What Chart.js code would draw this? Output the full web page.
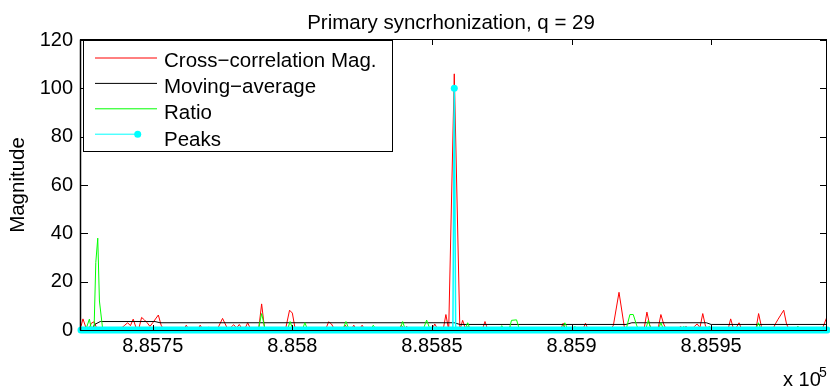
<!DOCTYPE html>
<html>
<head>
<meta charset="utf-8">
<script src="https://cdn.jsdelivr.net/npm/chart.js@4"></script>
<style>
  html, body { margin: 0; padding: 0; background: #fff; }
  #wrap { width: 830px; height: 386px; }
</style>
</head>
<body>
<div id="wrap"><canvas id="chart" width="830" height="386"></canvas></div>
<script>
// 図のテキスト
const titleText = 'Primary syncrhonization, q = 29';
const yAxisLabel = 'Magnitude';
const seriesNames = ['Cross\u2212correlation Mag.', 'Moving\u2212average', 'Ratio', 'Peaks'];

// 軸
const xMin = 885724.3;
const xMax = 885991.5;
const xTicks = [885750, 885800, 885850, 885900, 885950];
const xTickLabels = ['8.8575', '8.858', '8.8585', '8.859', '8.8595'];
const yTicks = [0, 20, 40, 60, 80, 100, 120];

// Cross-correlation Mag.
const corrX = [885724.3, 885725, 885726, 885727, 885728, 885729, 885730, 885731, 885738, 885740,
  885741, 885742, 885743, 885744, 885745, 885746, 885747, 885748, 885749, 885750,
  885752, 885753, 885754, 885761, 885762, 885763, 885766, 885767, 885768, 885773,
  885775, 885777, 885779, 885780, 885781, 885782, 885783, 885784, 885785, 885787,
  885788, 885789, 885790, 885791, 885797.5, 885799, 885800, 885801, 885802, 885812,
  885813, 885814, 885815, 885816, 885818, 885819, 885820, 885821, 885822, 885823,
  885824, 885825, 885826, 885838, 885839, 885840, 885841, 885842, 885850, 885851,
  885852, 885853, 885854, 885855, 885856, 885858, 885860, 885861, 885862, 885863,
  885864, 885868, 885869, 885870, 885877, 885878, 885879, 885896, 885897, 885898,
  885904, 885905, 885906, 885914, 885915, 885917, 885919, 885920, 885926, 885927,
  885928, 885929, 885931, 885932, 885933, 885934, 885938, 885939, 885940, 885941,
  885942, 885943, 885944, 885945, 885946, 885947, 885948, 885949, 885950, 885956,
  885957, 885958, 885959, 885960, 885961, 885966, 885967, 885968, 885969, 885972,
  885973, 885974, 885976, 885977, 885978, 885980, 885981, 885982, 885989, 885990,
  885991.5];
const corrY = [1.5, 4.6, 1.2, 0, 2.8, 3.4, 0.5, 0, 0, 2.0,
  3.0, 1.8, 4.5, 1.0, 0.5, 5.2, 4.2, 3.0, 1.5, 3.0,
  6.2, 2.0, 0, 0, 2.0, 0, 0, 2.0, 0, 0,
  4.8, 0, 2.2, 0.8, 2.3, 0.5, 0.5, 3.0, 0.5, 0,
  1.0, 10.8, 1.0, 0, 0, 8.2, 7.0, 0.5, 0, 0.5,
  3.4, 2.5, 0.5, 0, 0, 2.0, 0, 0, 2.0, 0,
  0.3, 2.0, 0, 0, 2.0, 0.5, 1.5, 0, 0, 2.5,
  0.5, 0, 0, 6.4, 0, 106, 0, 4.0, 0.5, 1.5,
  0, 0, 3.5, 0, 0, 1.5, 0, 0, 2.8, 0,
  0, 2.8, 0, 0, 2.0, 15.6, 0.5, 0, 0.5, 7.4,
  2.0, 0, 0.5, 6.4, 2.5, 0, 0, 1.5, 0.5, 1.5,
  0.5, 0, 1.5, 2.5, 1.0, 6.8, 1.5, 0.5, 0, 0,
  4.6, 0.5, 1.0, 3.0, 0, 0, 6.8, 1.5, 0, 0,
  2.5, 4.5, 8.2, 2.5, 0, 0, 1.5, 0, 0, 1.0,
  5.5];

// Moving-average
const avgX = [885724.3, 885728.5, 885729.2, 885731.2, 885750.8, 885752.6, 885858, 885860,
  885919.5, 885921.6, 885948.3, 885950, 885991.5];
const avgY = [0.5, 1.0, 2.3, 3.5, 3.5, 3.0, 3.0, 2.3, 2.3, 3.0, 3.0, 2.3, 2.3];

// Ratio
const ratioX = [885724.3, 885726, 885727.3, 885728, 885729, 885729.6, 885730.3, 885730.9, 885732, 885733,
  885769, 885770, 885772, 885773, 885787.8, 885789, 885790.3, 885798.2, 885799.2, 885800.2,
  885803.5, 885804.5, 885805.5, 885818, 885819.2, 885820.4, 885828, 885829, 885830, 885838.5,
  885839.5, 885840.5, 885846.8, 885848.1, 885849.4, 885861.8, 885862.8, 885863.8, 885874.2, 885875,
  885876, 885877.6, 885878.5, 885880.3, 885881.4, 885887, 885887.8, 885888.6, 885896.5, 885897.6,
  885898.8, 885900.5, 885901.2, 885902, 885919.5, 885920.9, 885922.1, 885923.3, 885924, 885926.5,
  885927.5, 885928.5, 885931, 885932, 885933, 885939.5, 885940.2, 885941, 885948.5, 885949.3,
  885950, 885957.5, 885958.3, 885959, 885966, 885966.9, 885968, 885980.3, 885981.1, 885982,
  885991.5];
const ratioY = [0.5, 0, 4.5, 0.5, 1.0, 28, 38, 12, 1.0, 0,
  0, 1.2, 0.3, 0, 0, 6.8, 0, 0, 3.5, 0,
  0, 3.0, 0, 0, 3.5, 0, 0, 2.0, 0, 0,
  3.5, 0, 0, 4.1, 0, 0, 3.0, 0, 0, 1.8,
  0, 0, 4.0, 4.2, 0, 0, 1.2, 0, 0, 3.0,
  0, 0, 1.5, 0, 0, 6.4, 6.4, 2.0, 0, 0,
  4.0, 0, 0, 3.0, 0, 0, 1.5, 0, 0, 1.5,
  0, 0, 1.2, 0, 0, 3.0, 0, 0, 1.5, 0,
  0];

// Peaks
const peakX = [885724.3, 885857.5, 885858, 885858.5, 885991.5];
const peakY = [0, 0, 100, 0, 0];

const seriesColors = ['#ff0000', '#000000', '#00ff00', '#00ffff'];
const fontFamily = '"Liberation Sans", Arial, Helvetica, sans-serif';

function toPoints(xs, ys) {
    return xs.map((x, i) => ({ x: x, y: ys[i] }));
}

// 枠・目盛り・凡例・タイトル
const matlabDecor = {
    id: 'matlabDecor',
    afterDatasetsDraw(chart) {
        const ctx = chart.ctx;
        const a = chart.chartArea;
        const xs = chart.scales.x;
        const ys = chart.scales.y;
        ctx.save();
        ctx.strokeStyle = '#000';
        ctx.lineWidth = 1;
        ctx.beginPath();
        xTicks.forEach(v => {
            const px = Math.round(xs.getPixelForValue(v)) + 0.5;
            ctx.moveTo(px, a.bottom); ctx.lineTo(px, a.bottom - 5);
            ctx.moveTo(px, a.top); ctx.lineTo(px, a.top + 5);
        });
        yTicks.forEach(v => {
            const py = Math.round(ys.getPixelForValue(v)) + 0.5;
            ctx.moveTo(a.left, py); ctx.lineTo(a.left + 7, py);
            ctx.moveTo(a.right, py); ctx.lineTo(a.right - 7, py);
        });
        ctx.stroke();
        ctx.strokeRect(a.left - 0.5, a.top - 0.5, a.right - a.left, a.bottom - a.top + 1);
        // 左軸は少し太い
        ctx.beginPath();
        ctx.lineWidth = 1.5;
        ctx.moveTo(a.left - 0.5, a.top - 0.5);
        ctx.lineTo(a.left - 0.5, a.bottom + 0.5);
        ctx.stroke();
        ctx.restore();
    },
    afterDraw(chart) {
        const ctx = chart.ctx;
        const a = chart.chartArea;
        ctx.save();
        ctx.fillStyle = '#000';

        // タイトル
        ctx.font = '20.5px ' + fontFamily;
        ctx.textAlign = 'center';
        ctx.textBaseline = 'alphabetic';
        ctx.fillText(titleText, 451, 28.5);

        // Y軸ラベル
        ctx.save();
        ctx.translate(18, (a.top + a.bottom) / 2);
        ctx.rotate(-Math.PI / 2);
        ctx.textBaseline = 'middle';
        ctx.fillText(yAxisLabel, 0, 0);
        ctx.restore();

        // 指数
        ctx.textAlign = 'left';
        ctx.font = '20px ' + fontFamily;
        ctx.fillText('x 10', 783, 386);
        ctx.font = '14px ' + fontFamily;
        ctx.fillText('5', 819, 376.5);

        // 凡例
        const box = { left: 83.5, top: 40.5, width: 309, height: 111 };
        ctx.fillStyle = '#fff';
        ctx.fillRect(box.left, box.top, box.width, box.height);
        ctx.strokeStyle = '#000';
        ctx.lineWidth = 1;
        ctx.strokeRect(box.left, box.top, box.width, box.height);
        ctx.font = '20.5px ' + fontFamily;
        seriesNames.forEach((name, i) => {
            const ly = 58 + i * 25.4;
            ctx.strokeStyle = seriesColors[i];
            ctx.lineWidth = 1;
            ctx.beginPath();
            ctx.moveTo(95, ly);
            ctx.lineTo(i === 3 ? 137.7 : 157, ly);
            ctx.stroke();
            if (i === 3) {
                ctx.fillStyle = seriesColors[i];
                ctx.beginPath();
                ctx.arc(137.7, ly, 3.5, 0, Math.PI * 2);
                ctx.fill();
            }
            ctx.fillStyle = '#000';
            ctx.textAlign = 'left';
            ctx.textBaseline = 'alphabetic';
            ctx.fillText(name, 164, 66.7 + i * 26.3);
        });
        ctx.restore();
    }
};

document.addEventListener('DOMContentLoaded', function() {
    'use strict';
    Chart.defaults.font.family = fontFamily;
    Chart.defaults.color = '#000';

    const base = { pointRadius: 0, borderWidth: 1, tension: 0, fill: false };

    new Chart(document.getElementById('chart').getContext('2d'), {
        type: 'line',
        data: {
            datasets: [
                Object.assign({}, base, {
                    label: seriesNames[0], data: toPoints(corrX, corrY),
                    borderColor: seriesColors[0], order: 4
                }),
                Object.assign({}, base, {
                    label: seriesNames[1], data: toPoints(avgX, avgY),
                    borderColor: seriesColors[1], order: 3
                }),
                Object.assign({}, base, {
                    label: seriesNames[2], data: toPoints(ratioX, ratioY),
                    borderColor: seriesColors[2], order: 2
                }),
                Object.assign({}, base, {
                    label: seriesNames[3], data: toPoints(peakX, peakY),
                    borderColor: seriesColors[3], backgroundColor: seriesColors[3],
                    borderCapStyle: 'round', clip: false, order: 1,
                    pointRadius: ctx => (ctx.raw && ctx.raw.y > 0 ? 3.5 : 0),
                    pointBorderWidth: 0,
                    segment: {
                        borderWidth: ctx => (ctx.p0.parsed.y === 0 && ctx.p1.parsed.y === 0 ? 7 : 1.5)
                    }
                })
            ]
        },
        options: {
            responsive: false,
            animation: false,
            events: [],
            layout: { padding: { left: 0, right: 3, top: 40, bottom: 0 } },
            plugins: { legend: { display: false }, title: { display: false }, tooltip: { enabled: false } },
            scales: {
                x: {
                    type: 'linear',
                    min: xMin,
                    max: xMax,
                    grid: { display: false, drawTicks: false },
                    border: { display: false },
                    ticks: {
                        font: { size: 20 },
                        padding: 4,
                        maxRotation: 0,
                        autoSkip: false,
                        callback: function(value) {
                            const i = xTicks.indexOf(value);
                            return i >= 0 ? xTickLabels[i] : '';
                        }
                    },
                    afterBuildTicks: function(scale) {
                        scale.ticks = xTicks.map(v => ({ value: v }));
                    },
                    afterFit: function(scale) { scale.height = 56; }
                },
                y: {
                    min: 0,
                    max: 120,
                    grid: { display: false, drawTicks: false },
                    border: { display: false },
                    ticks: { font: { size: 20 }, padding: 8, stepSize: 20 },
                    afterBuildTicks: function(scale) {
                        scale.ticks = yTicks.map(v => ({ value: v }));
                    },
                    afterFit: function(scale) { scale.width = 81; }
                }
            }
        },
        plugins: [matlabDecor]
    });
});
</script>
</body>
</html>
